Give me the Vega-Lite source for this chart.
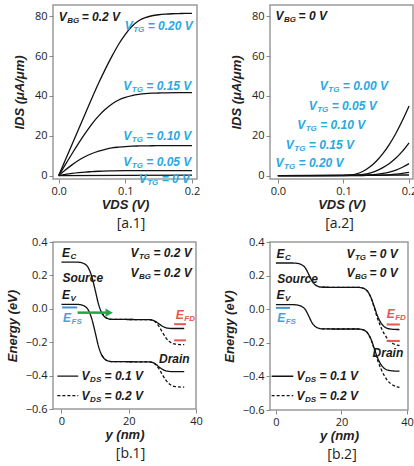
{
  "$schema": "https://vega.github.io/schema/vega-lite/v6.json",
  "padding": {"left": 5, "top": 4, "right": 0, "bottom": 0},
  "background": "white",
  "config": {
    "view": {"stroke": "#9a9a9a", "strokeWidth": 1.5},
    "axis": {"domain": false, "grid": false, "labelFont": "Open Sans", "labelFontSize": 11, "labelColor": "#222", "labelFlush": false, "labelOverlap": false, "labelBound": false, "labelPadding": 2, "tickColor": "#888", "tickSize": 4, "tickWidth": 1, "titleFont": "Liberation Sans", "titleFontSize": 13, "titleFontWeight": "bold", "titleFontStyle": "italic", "titleColor": "#222"},
    "axisX": {"titlePadding": 2},
    "axisY": {"titlePadding": 8},
    "title": {"orient": "bottom", "font": "Open Sans", "fontSize": 14, "fontWeight": "normal", "color": "#222", "offset": 6, "frame": "group"},
    "text": {"font": "Liberation Sans", "fontWeight": "bold", "fontStyle": "italic"}
  },
  "datasets": {
    "a1": [
      {"vtg": "0.20", "vds": 0, "ids": 0}, {"vtg": "0.20", "vds": 0.01, "ids": 7.8}, {"vtg": "0.20", "vds": 0.02, "ids": 15.6}, {"vtg": "0.20", "vds": 0.03, "ids": 23.4}, {"vtg": "0.20", "vds": 0.04, "ids": 31.2}, {"vtg": "0.20", "vds": 0.05, "ids": 39}, {"vtg": "0.20", "vds": 0.06, "ids": 46.5}, {"vtg": "0.20", "vds": 0.07, "ids": 53.5}, {"vtg": "0.20", "vds": 0.08, "ids": 60}, {"vtg": "0.20", "vds": 0.09, "ids": 66}, {"vtg": "0.20", "vds": 0.10, "ids": 71}, {"vtg": "0.20", "vds": 0.11, "ids": 75}, {"vtg": "0.20", "vds": 0.12, "ids": 77.8}, {"vtg": "0.20", "vds": 0.13, "ids": 79.4}, {"vtg": "0.20", "vds": 0.14, "ids": 80.3}, {"vtg": "0.20", "vds": 0.15, "ids": 80.8}, {"vtg": "0.20", "vds": 0.16, "ids": 81.1}, {"vtg": "0.20", "vds": 0.17, "ids": 81.3}, {"vtg": "0.20", "vds": 0.18, "ids": 81.4}, {"vtg": "0.20", "vds": 0.19, "ids": 81.5}, {"vtg": "0.20", "vds": 0.20, "ids": 81.5},
      {"vtg": "0.15", "vds": 0, "ids": 0}, {"vtg": "0.15", "vds": 0.01, "ids": 5.5}, {"vtg": "0.15", "vds": 0.02, "ids": 11}, {"vtg": "0.15", "vds": 0.03, "ids": 16.3}, {"vtg": "0.15", "vds": 0.04, "ids": 21.3}, {"vtg": "0.15", "vds": 0.05, "ids": 26}, {"vtg": "0.15", "vds": 0.06, "ids": 30}, {"vtg": "0.15", "vds": 0.07, "ids": 33.3}, {"vtg": "0.15", "vds": 0.08, "ids": 36}, {"vtg": "0.15", "vds": 0.09, "ids": 38}, {"vtg": "0.15", "vds": 0.10, "ids": 39.3}, {"vtg": "0.15", "vds": 0.11, "ids": 40.2}, {"vtg": "0.15", "vds": 0.12, "ids": 40.8}, {"vtg": "0.15", "vds": 0.13, "ids": 41.2}, {"vtg": "0.15", "vds": 0.14, "ids": 41.4}, {"vtg": "0.15", "vds": 0.15, "ids": 41.5}, {"vtg": "0.15", "vds": 0.16, "ids": 41.6}, {"vtg": "0.15", "vds": 0.18, "ids": 41.7}, {"vtg": "0.15", "vds": 0.20, "ids": 41.7},
      {"vtg": "0.10", "vds": 0, "ids": 0}, {"vtg": "0.10", "vds": 0.01, "ids": 2.8}, {"vtg": "0.10", "vds": 0.02, "ids": 5.4}, {"vtg": "0.10", "vds": 0.03, "ids": 7.7}, {"vtg": "0.10", "vds": 0.04, "ids": 9.6}, {"vtg": "0.10", "vds": 0.05, "ids": 11.1}, {"vtg": "0.10", "vds": 0.06, "ids": 12.3}, {"vtg": "0.10", "vds": 0.07, "ids": 13.2}, {"vtg": "0.10", "vds": 0.08, "ids": 13.9}, {"vtg": "0.10", "vds": 0.09, "ids": 14.3}, {"vtg": "0.10", "vds": 0.10, "ids": 14.6}, {"vtg": "0.10", "vds": 0.11, "ids": 14.8}, {"vtg": "0.10", "vds": 0.12, "ids": 14.9}, {"vtg": "0.10", "vds": 0.14, "ids": 15}, {"vtg": "0.10", "vds": 0.16, "ids": 15.1}, {"vtg": "0.10", "vds": 0.20, "ids": 15.1},
      {"vtg": "0.05", "vds": 0, "ids": 0}, {"vtg": "0.05", "vds": 0.01, "ids": 0.6}, {"vtg": "0.05", "vds": 0.02, "ids": 1.1}, {"vtg": "0.05", "vds": 0.03, "ids": 1.5}, {"vtg": "0.05", "vds": 0.04, "ids": 1.8}, {"vtg": "0.05", "vds": 0.05, "ids": 2.0}, {"vtg": "0.05", "vds": 0.06, "ids": 2.2}, {"vtg": "0.05", "vds": 0.08, "ids": 2.4}, {"vtg": "0.05", "vds": 0.10, "ids": 2.5}, {"vtg": "0.05", "vds": 0.20, "ids": 2.5},
      {"vtg": "0.00", "vds": 0, "ids": 0}, {"vtg": "0.00", "vds": 0.1, "ids": 0.15}, {"vtg": "0.00", "vds": 0.2, "ids": 0.2}
    ],
    "a2": [
      {"vtg": "0.00", "vds": 0, "ids": 0}, {"vtg": "0.00", "vds": 0.05, "ids": 0}, {"vtg": "0.00", "vds": 0.10, "ids": 0.1}, {"vtg": "0.00", "vds": 0.11, "ids": 0.3}, {"vtg": "0.00", "vds": 0.12, "ids": 0.9}, {"vtg": "0.00", "vds": 0.13, "ids": 2.2}, {"vtg": "0.00", "vds": 0.14, "ids": 4.3}, {"vtg": "0.00", "vds": 0.15, "ids": 7.2}, {"vtg": "0.00", "vds": 0.16, "ids": 11}, {"vtg": "0.00", "vds": 0.17, "ids": 15.7}, {"vtg": "0.00", "vds": 0.18, "ids": 21.3}, {"vtg": "0.00", "vds": 0.19, "ids": 27.8}, {"vtg": "0.00", "vds": 0.20, "ids": 35},
      {"vtg": "0.05", "vds": 0, "ids": 0}, {"vtg": "0.05", "vds": 0.10, "ids": 0}, {"vtg": "0.05", "vds": 0.12, "ids": 0.2}, {"vtg": "0.05", "vds": 0.13, "ids": 0.6}, {"vtg": "0.05", "vds": 0.14, "ids": 1.3}, {"vtg": "0.05", "vds": 0.15, "ids": 2.4}, {"vtg": "0.05", "vds": 0.16, "ids": 4}, {"vtg": "0.05", "vds": 0.17, "ids": 6.1}, {"vtg": "0.05", "vds": 0.18, "ids": 8.8}, {"vtg": "0.05", "vds": 0.19, "ids": 12.3}, {"vtg": "0.05", "vds": 0.20, "ids": 16.5},
      {"vtg": "0.10", "vds": 0, "ids": 0}, {"vtg": "0.10", "vds": 0.12, "ids": 0}, {"vtg": "0.10", "vds": 0.14, "ids": 0.3}, {"vtg": "0.10", "vds": 0.15, "ids": 0.6}, {"vtg": "0.10", "vds": 0.16, "ids": 1.1}, {"vtg": "0.10", "vds": 0.17, "ids": 1.8}, {"vtg": "0.10", "vds": 0.18, "ids": 2.8}, {"vtg": "0.10", "vds": 0.19, "ids": 4.2}, {"vtg": "0.10", "vds": 0.20, "ids": 6},
      {"vtg": "0.15", "vds": 0, "ids": 0}, {"vtg": "0.15", "vds": 0.15, "ids": 0.1}, {"vtg": "0.15", "vds": 0.16, "ids": 0.2}, {"vtg": "0.15", "vds": 0.17, "ids": 0.4}, {"vtg": "0.15", "vds": 0.18, "ids": 0.7}, {"vtg": "0.15", "vds": 0.19, "ids": 1.1}, {"vtg": "0.15", "vds": 0.20, "ids": 1.6},
      {"vtg": "0.20", "vds": 0, "ids": 0}, {"vtg": "0.20", "vds": 0.20, "ids": 0.3}
    ],
    "b1": [
      {"band": "Ec", "vds": "0.1 V", "x": 0, "y": 0.28}, {"band": "Ec", "vds": "0.1 V", "x": 4, "y": 0.28}, {"band": "Ec", "vds": "0.1 V", "x": 5, "y": 0.279}, {"band": "Ec", "vds": "0.1 V", "x": 6, "y": 0.276}, {"band": "Ec", "vds": "0.1 V", "x": 7, "y": 0.267}, {"band": "Ec", "vds": "0.1 V", "x": 8, "y": 0.245}, {"band": "Ec", "vds": "0.1 V", "x": 9, "y": 0.195}, {"band": "Ec", "vds": "0.1 V", "x": 10, "y": 0.115}, {"band": "Ec", "vds": "0.1 V", "x": 11, "y": 0.03}, {"band": "Ec", "vds": "0.1 V", "x": 12, "y": -0.025}, {"band": "Ec", "vds": "0.1 V", "x": 13, "y": -0.05}, {"band": "Ec", "vds": "0.1 V", "x": 14, "y": -0.06}, {"band": "Ec", "vds": "0.1 V", "x": 15, "y": -0.063}, {"band": "Ec", "vds": "0.1 V", "x": 20, "y": -0.064}, {"band": "Ec", "vds": "0.1 V", "x": 26, "y": -0.065}, {"band": "Ec", "vds": "0.1 V", "x": 27, "y": -0.068}, {"band": "Ec", "vds": "0.1 V", "x": 28, "y": -0.076}, {"band": "Ec", "vds": "0.1 V", "x": 29, "y": -0.09}, {"band": "Ec", "vds": "0.1 V", "x": 30, "y": -0.104}, {"band": "Ec", "vds": "0.1 V", "x": 31, "y": -0.113}, {"band": "Ec", "vds": "0.1 V", "x": 32, "y": -0.117}, {"band": "Ec", "vds": "0.1 V", "x": 33, "y": -0.118}, {"band": "Ec", "vds": "0.1 V", "x": 36.5, "y": -0.118},
      {"band": "Ec", "vds": "0.2 V", "x": 12, "y": -0.025}, {"band": "Ec", "vds": "0.2 V", "x": 13, "y": -0.05}, {"band": "Ec", "vds": "0.2 V", "x": 14, "y": -0.06}, {"band": "Ec", "vds": "0.2 V", "x": 15, "y": -0.063}, {"band": "Ec", "vds": "0.2 V", "x": 20, "y": -0.064}, {"band": "Ec", "vds": "0.2 V", "x": 26, "y": -0.065}, {"band": "Ec", "vds": "0.2 V", "x": 27, "y": -0.068}, {"band": "Ec", "vds": "0.2 V", "x": 28, "y": -0.08}, {"band": "Ec", "vds": "0.2 V", "x": 29, "y": -0.105}, {"band": "Ec", "vds": "0.2 V", "x": 30, "y": -0.14}, {"band": "Ec", "vds": "0.2 V", "x": 31, "y": -0.172}, {"band": "Ec", "vds": "0.2 V", "x": 32, "y": -0.195}, {"band": "Ec", "vds": "0.2 V", "x": 33, "y": -0.207}, {"band": "Ec", "vds": "0.2 V", "x": 34, "y": -0.212}, {"band": "Ec", "vds": "0.2 V", "x": 35, "y": -0.214}, {"band": "Ec", "vds": "0.2 V", "x": 36.5, "y": -0.215},
      {"band": "Ev", "vds": "0.1 V", "x": 0, "y": 0.027}, {"band": "Ev", "vds": "0.1 V", "x": 4, "y": 0.027}, {"band": "Ev", "vds": "0.1 V", "x": 5, "y": 0.026}, {"band": "Ev", "vds": "0.1 V", "x": 6, "y": 0.023}, {"band": "Ev", "vds": "0.1 V", "x": 7, "y": 0.014}, {"band": "Ev", "vds": "0.1 V", "x": 8, "y": -0.008}, {"band": "Ev", "vds": "0.1 V", "x": 9, "y": -0.058}, {"band": "Ev", "vds": "0.1 V", "x": 10, "y": -0.138}, {"band": "Ev", "vds": "0.1 V", "x": 11, "y": -0.223}, {"band": "Ev", "vds": "0.1 V", "x": 12, "y": -0.278}, {"band": "Ev", "vds": "0.1 V", "x": 13, "y": -0.303}, {"band": "Ev", "vds": "0.1 V", "x": 14, "y": -0.313}, {"band": "Ev", "vds": "0.1 V", "x": 15, "y": -0.316}, {"band": "Ev", "vds": "0.1 V", "x": 20, "y": -0.317}, {"band": "Ev", "vds": "0.1 V", "x": 26, "y": -0.318}, {"band": "Ev", "vds": "0.1 V", "x": 27, "y": -0.321}, {"band": "Ev", "vds": "0.1 V", "x": 28, "y": -0.331}, {"band": "Ev", "vds": "0.1 V", "x": 29, "y": -0.348}, {"band": "Ev", "vds": "0.1 V", "x": 30, "y": -0.362}, {"band": "Ev", "vds": "0.1 V", "x": 31, "y": -0.371}, {"band": "Ev", "vds": "0.1 V", "x": 32, "y": -0.375}, {"band": "Ev", "vds": "0.1 V", "x": 33, "y": -0.376}, {"band": "Ev", "vds": "0.1 V", "x": 36.5, "y": -0.376},
      {"band": "Ev", "vds": "0.2 V", "x": 12, "y": -0.278}, {"band": "Ev", "vds": "0.2 V", "x": 13, "y": -0.303}, {"band": "Ev", "vds": "0.2 V", "x": 14, "y": -0.313}, {"band": "Ev", "vds": "0.2 V", "x": 15, "y": -0.316}, {"band": "Ev", "vds": "0.2 V", "x": 20, "y": -0.317}, {"band": "Ev", "vds": "0.2 V", "x": 26, "y": -0.318}, {"band": "Ev", "vds": "0.2 V", "x": 27, "y": -0.321}, {"band": "Ev", "vds": "0.2 V", "x": 28, "y": -0.334}, {"band": "Ev", "vds": "0.2 V", "x": 29, "y": -0.359}, {"band": "Ev", "vds": "0.2 V", "x": 30, "y": -0.394}, {"band": "Ev", "vds": "0.2 V", "x": 31, "y": -0.426}, {"band": "Ev", "vds": "0.2 V", "x": 32, "y": -0.449}, {"band": "Ev", "vds": "0.2 V", "x": 33, "y": -0.461}, {"band": "Ev", "vds": "0.2 V", "x": 34, "y": -0.466}, {"band": "Ev", "vds": "0.2 V", "x": 35, "y": -0.468}, {"band": "Ev", "vds": "0.2 V", "x": 36.5, "y": -0.469},
      {"band": "leg1", "vds": "0.1 V", "x": -1.2, "y": -0.403}, {"band": "leg1", "vds": "0.1 V", "x": 5, "y": -0.403},
      {"band": "leg2", "vds": "0.2 V", "x": -1.2, "y": -0.52}, {"band": "leg2", "vds": "0.2 V", "x": 5, "y": -0.52}
    ],
    "b2": [
      {"band": "Ec", "vds": "0.1 V", "x": 0, "y": 0.275}, {"band": "Ec", "vds": "0.1 V", "x": 5, "y": 0.275}, {"band": "Ec", "vds": "0.1 V", "x": 6, "y": 0.274}, {"band": "Ec", "vds": "0.1 V", "x": 7, "y": 0.271}, {"band": "Ec", "vds": "0.1 V", "x": 8, "y": 0.263}, {"band": "Ec", "vds": "0.1 V", "x": 9, "y": 0.245}, {"band": "Ec", "vds": "0.1 V", "x": 10, "y": 0.208}, {"band": "Ec", "vds": "0.1 V", "x": 11, "y": 0.168}, {"band": "Ec", "vds": "0.1 V", "x": 12, "y": 0.145}, {"band": "Ec", "vds": "0.1 V", "x": 13, "y": 0.135}, {"band": "Ec", "vds": "0.1 V", "x": 14, "y": 0.131}, {"band": "Ec", "vds": "0.1 V", "x": 20, "y": 0.13}, {"band": "Ec", "vds": "0.1 V", "x": 25, "y": 0.13}, {"band": "Ec", "vds": "0.1 V", "x": 26, "y": 0.128}, {"band": "Ec", "vds": "0.1 V", "x": 27, "y": 0.122}, {"band": "Ec", "vds": "0.1 V", "x": 28, "y": 0.105}, {"band": "Ec", "vds": "0.1 V", "x": 29, "y": 0.07}, {"band": "Ec", "vds": "0.1 V", "x": 30, "y": 0.015}, {"band": "Ec", "vds": "0.1 V", "x": 31, "y": -0.04}, {"band": "Ec", "vds": "0.1 V", "x": 32, "y": -0.08}, {"band": "Ec", "vds": "0.1 V", "x": 33, "y": -0.103}, {"band": "Ec", "vds": "0.1 V", "x": 34, "y": -0.114}, {"band": "Ec", "vds": "0.1 V", "x": 35, "y": -0.118}, {"band": "Ec", "vds": "0.1 V", "x": 36, "y": -0.12}, {"band": "Ec", "vds": "0.1 V", "x": 37.7, "y": -0.121},
      {"band": "Ec", "vds": "0.2 V", "x": 14, "y": 0.131}, {"band": "Ec", "vds": "0.2 V", "x": 20, "y": 0.13}, {"band": "Ec", "vds": "0.2 V", "x": 25, "y": 0.13}, {"band": "Ec", "vds": "0.2 V", "x": 26, "y": 0.128}, {"band": "Ec", "vds": "0.2 V", "x": 27, "y": 0.122}, {"band": "Ec", "vds": "0.2 V", "x": 28, "y": 0.105}, {"band": "Ec", "vds": "0.2 V", "x": 29, "y": 0.068}, {"band": "Ec", "vds": "0.2 V", "x": 30, "y": 0.01}, {"band": "Ec", "vds": "0.2 V", "x": 31, "y": -0.055}, {"band": "Ec", "vds": "0.2 V", "x": 32, "y": -0.105}, {"band": "Ec", "vds": "0.2 V", "x": 33, "y": -0.145}, {"band": "Ec", "vds": "0.2 V", "x": 34, "y": -0.175}, {"band": "Ec", "vds": "0.2 V", "x": 35, "y": -0.195}, {"band": "Ec", "vds": "0.2 V", "x": 36, "y": -0.207}, {"band": "Ec", "vds": "0.2 V", "x": 37, "y": -0.214}, {"band": "Ec", "vds": "0.2 V", "x": 37.7, "y": -0.216},
      {"band": "Ev", "vds": "0.1 V", "x": 0, "y": 0.027}, {"band": "Ev", "vds": "0.1 V", "x": 5, "y": 0.027}, {"band": "Ev", "vds": "0.1 V", "x": 6, "y": 0.026}, {"band": "Ev", "vds": "0.1 V", "x": 7, "y": 0.023}, {"band": "Ev", "vds": "0.1 V", "x": 8, "y": 0.015}, {"band": "Ev", "vds": "0.1 V", "x": 9, "y": -0.003}, {"band": "Ev", "vds": "0.1 V", "x": 10, "y": -0.04}, {"band": "Ev", "vds": "0.1 V", "x": 11, "y": -0.08}, {"band": "Ev", "vds": "0.1 V", "x": 12, "y": -0.103}, {"band": "Ev", "vds": "0.1 V", "x": 13, "y": -0.113}, {"band": "Ev", "vds": "0.1 V", "x": 14, "y": -0.117}, {"band": "Ev", "vds": "0.1 V", "x": 20, "y": -0.118}, {"band": "Ev", "vds": "0.1 V", "x": 25, "y": -0.118}, {"band": "Ev", "vds": "0.1 V", "x": 26, "y": -0.12}, {"band": "Ev", "vds": "0.1 V", "x": 27, "y": -0.126}, {"band": "Ev", "vds": "0.1 V", "x": 28, "y": -0.143}, {"band": "Ev", "vds": "0.1 V", "x": 29, "y": -0.178}, {"band": "Ev", "vds": "0.1 V", "x": 30, "y": -0.233}, {"band": "Ev", "vds": "0.1 V", "x": 31, "y": -0.288}, {"band": "Ev", "vds": "0.1 V", "x": 32, "y": -0.328}, {"band": "Ev", "vds": "0.1 V", "x": 33, "y": -0.351}, {"band": "Ev", "vds": "0.1 V", "x": 34, "y": -0.362}, {"band": "Ev", "vds": "0.1 V", "x": 35, "y": -0.366}, {"band": "Ev", "vds": "0.1 V", "x": 36, "y": -0.368}, {"band": "Ev", "vds": "0.1 V", "x": 37.7, "y": -0.369},
      {"band": "Ev", "vds": "0.2 V", "x": 14, "y": -0.117}, {"band": "Ev", "vds": "0.2 V", "x": 20, "y": -0.118}, {"band": "Ev", "vds": "0.2 V", "x": 25, "y": -0.118}, {"band": "Ev", "vds": "0.2 V", "x": 26, "y": -0.12}, {"band": "Ev", "vds": "0.2 V", "x": 27, "y": -0.126}, {"band": "Ev", "vds": "0.2 V", "x": 28, "y": -0.143}, {"band": "Ev", "vds": "0.2 V", "x": 29, "y": -0.18}, {"band": "Ev", "vds": "0.2 V", "x": 30, "y": -0.238}, {"band": "Ev", "vds": "0.2 V", "x": 31, "y": -0.303}, {"band": "Ev", "vds": "0.2 V", "x": 32, "y": -0.353}, {"band": "Ev", "vds": "0.2 V", "x": 33, "y": -0.393}, {"band": "Ev", "vds": "0.2 V", "x": 34, "y": -0.423}, {"band": "Ev", "vds": "0.2 V", "x": 35, "y": -0.443}, {"band": "Ev", "vds": "0.2 V", "x": 36, "y": -0.455}, {"band": "Ev", "vds": "0.2 V", "x": 37, "y": -0.462}, {"band": "Ev", "vds": "0.2 V", "x": 37.7, "y": -0.465},
      {"band": "leg1", "vds": "0.1 V", "x": -1.3, "y": -0.399}, {"band": "leg1", "vds": "0.1 V", "x": 5.3, "y": -0.399},
      {"band": "leg2", "vds": "0.2 V", "x": -1.3, "y": -0.515}, {"band": "leg2", "vds": "0.2 V", "x": 5.3, "y": -0.515}
    ],
    "ta1": [
      {"vds": 0.0, "ids": 79.6, "main": "V", "sub": "BG", "rest": "= 0.2 V", "kind": "label"},
      {"vds": 0.099, "ids": 75.4, "main": "V", "sub": "TG", "rest": "= 0.20 V", "kind": "vtg"},
      {"vds": 0.097, "ids": 44.9, "main": "V", "sub": "TG", "rest": "= 0.15 V", "kind": "vtg"},
      {"vds": 0.097, "ids": 20.1, "main": "V", "sub": "TG", "rest": "= 0.10 V", "kind": "vtg"},
      {"vds": 0.097, "ids": 7.0, "main": "V", "sub": "TG", "rest": "= 0.05 V", "kind": "vtg"},
      {"vds": 0.12, "ids": -1.5, "main": "V", "sub": "TG", "rest": "= 0 V", "kind": "vtg"}
    ],
    "ta2": [
      {"vds": -0.0035, "ids": 80, "main": "V", "sub": "BG", "rest": "= 0 V", "kind": "label"},
      {"vds": 0.064, "ids": 44.9, "main": "V", "sub": "TG", "rest": "= 0.00 V", "kind": "vtg"},
      {"vds": 0.047, "ids": 35.2, "main": "V", "sub": "TG", "rest": "= 0.05 V", "kind": "vtg"},
      {"vds": 0.0295, "ids": 25.5, "main": "V", "sub": "TG", "rest": "= 0.10 V", "kind": "vtg"},
      {"vds": 0.0122, "ids": 15.6, "main": "V", "sub": "TG", "rest": "= 0.15 V", "kind": "vtg"},
      {"vds": -0.0035, "ids": 6.4, "main": "V", "sub": "TG", "rest": "= 0.20 V", "kind": "vtg"}
    ],
    "tb1": [
      {"x": 0.2, "y": 0.334, "main": "E", "sub": "C", "rest": "", "kind": "label"},
      {"x": 0.3, "y": 0.183, "main": "Source", "sub": "", "rest": "", "kind": "label"},
      {"x": 0.2, "y": 0.083, "main": "E", "sub": "V", "rest": "", "kind": "label"},
      {"x": 0.5, "y": -0.054, "main": "E", "sub": "FS", "rest": "", "kind": "efs"},
      {"x": 20.5, "y": 0.334, "main": "V", "sub": "TG", "rest": "= 0.2 V", "kind": "label"},
      {"x": 20.5, "y": 0.215, "main": "V", "sub": "BG", "rest": "= 0.2 V", "kind": "label"},
      {"x": 34, "y": -0.038, "main": "E", "sub": "FD", "rest": "", "kind": "efd"},
      {"x": 29, "y": -0.3, "main": "Drain", "sub": "", "rest": "", "kind": "label"},
      {"x": 6, "y": -0.403, "main": "V", "sub": "DS", "rest": "= 0.1 V", "kind": "label"},
      {"x": 6, "y": -0.52, "main": "V", "sub": "DS", "rest": "= 0.2 V", "kind": "label"}
    ],
    "tb2": [
      {"x": 0.2, "y": 0.33, "main": "E", "sub": "C", "rest": "", "kind": "label"},
      {"x": 0.4, "y": 0.181, "main": "Source", "sub": "", "rest": "", "kind": "label"},
      {"x": 0.2, "y": 0.082, "main": "E", "sub": "V", "rest": "", "kind": "label"},
      {"x": 0.4, "y": -0.053, "main": "E", "sub": "FS", "rest": "", "kind": "efs"},
      {"x": 21.5, "y": 0.33, "main": "V", "sub": "TG", "rest": "= 0 V", "kind": "label"},
      {"x": 21.5, "y": 0.215, "main": "V", "sub": "BG", "rest": "= 0 V", "kind": "label"},
      {"x": 33.8, "y": -0.027, "main": "E", "sub": "FD", "rest": "", "kind": "efd"},
      {"x": 29.5, "y": -0.26, "main": "Drain", "sub": "", "rest": "", "kind": "label"},
      {"x": 6.3, "y": -0.399, "main": "V", "sub": "DS", "rest": "= 0.1 V", "kind": "label"},
      {"x": 6.3, "y": -0.515, "main": "V", "sub": "DS", "rest": "= 0.2 V", "kind": "label"}
    ],
    "mb1": [
      {"x": 0.2, "y": 0.008, "id": "s", "kind": "efs"}, {"x": 4.7, "y": 0.008, "id": "s", "kind": "efs"},
      {"x": 33.5, "y": -0.092, "id": "d1", "kind": "efd"}, {"x": 37, "y": -0.092, "id": "d1", "kind": "efd"},
      {"x": 33.5, "y": -0.189, "id": "d2", "kind": "efd"}, {"x": 37, "y": -0.189, "id": "d2", "kind": "efd"},
      {"x": 4.8, "y": -0.023, "id": "a", "kind": "arrow"}, {"x": 13.5, "y": -0.023, "id": "a", "kind": "arrow"},
      {"x": 14.2, "y": -0.023, "id": "h", "kind": "head"}
    ],
    "mb2": [
      {"x": 0.0, "y": 0.008, "id": "s", "kind": "efs"}, {"x": 4.3, "y": 0.008, "id": "s", "kind": "efs"},
      {"x": 33.8, "y": -0.091, "id": "d1", "kind": "efd"}, {"x": 37.8, "y": -0.091, "id": "d1", "kind": "efd"},
      {"x": 33.8, "y": -0.189, "id": "d2", "kind": "efd"}, {"x": 37.8, "y": -0.189, "id": "d2", "kind": "efd"}
    ]
  },
  "columns": 2,
  "spacing": {"row": 63, "column": 73},
  "bounds": "flush",
  "concat": [
    {
      "width": 144, "height": 174,
      "title": {"text": "[a.1]", "dx": 6},
      "encoding": {
        "x": {"field": "vds", "type": "quantitative", "scale": {"domain": [-0.0085, 0.2075], "nice": false, "zero": false}, "axis": {"title": "VDS (V)", "values": [0, 0.1, 0.2], "format": ".1f", "labelOverlap": false}},
        "y": {"field": "ids", "type": "quantitative", "scale": {"domain": [-1.7, 85.7], "nice": false, "zero": false}, "axis": {"title": "IDS (μA/μm)", "values": [0, 20, 40, 60, 80], "labelOverlap": false}}
      },
      "layer": [
        {"data": {"name": "a1"}, "mark": {"type": "line", "color": "#111", "strokeWidth": 1.3, "interpolate": "monotone"},
         "encoding": {"detail": {"field": "vtg"}}},
        {"data": {"name": "ta1"}, "mark": {"type": "text", "align": "left", "baseline": "middle", "fontSize": 12},
         "encoding": {"text": {"field": "main"}, "color": {"field": "kind", "type": "nominal", "scale": {"domain": ["label", "vtg", "efs", "efd"], "range": ["#1a1a1a", "#2aa8e0", "#4a9fd8", "#e8564e"]}, "legend": null}}},
        {"data": {"name": "ta1"}, "mark": {"type": "text", "align": "left", "baseline": "middle", "fontSize": 8, "dx": 8.5, "dy": 4},
         "encoding": {"text": {"field": "sub"}, "color": {"field": "kind", "type": "nominal", "legend": null}}},
        {"data": {"name": "ta1"}, "mark": {"type": "text", "align": "left", "baseline": "middle", "fontSize": 12, "dx": 23},
         "encoding": {"text": {"field": "rest"}, "color": {"field": "kind", "type": "nominal", "legend": null}}}
      ]
    },
    {
      "width": 143, "height": 174,
      "title": {"text": "[a.2]", "dx": -2},
      "encoding": {
        "x": {"field": "vds", "type": "quantitative", "scale": {"domain": [-0.012, 0.206], "nice": false, "zero": false}, "axis": {"title": "VDS (V)", "values": [0, 0.1, 0.2], "format": ".1f", "labelOverlap": false}},
        "y": {"field": "ids", "type": "quantitative", "scale": {"domain": [-1.7, 85.7], "nice": false, "zero": false}, "axis": {"title": "IDS (μA/μm)", "values": [0, 20, 40, 60, 80], "labelOverlap": false}}
      },
      "layer": [
        {"data": {"name": "a2"}, "mark": {"type": "line", "color": "#111", "strokeWidth": 1.3, "interpolate": "monotone"},
         "encoding": {"detail": {"field": "vtg"}}},
        {"data": {"name": "ta2"}, "mark": {"type": "text", "align": "left", "baseline": "middle", "fontSize": 12},
         "encoding": {"text": {"field": "main"}, "color": {"field": "kind", "type": "nominal", "scale": {"domain": ["label", "vtg", "efs", "efd"], "range": ["#1a1a1a", "#2aa8e0", "#4a9fd8", "#e8564e"]}, "legend": null}}},
        {"data": {"name": "ta2"}, "mark": {"type": "text", "align": "left", "baseline": "middle", "fontSize": 8, "dx": 8.5, "dy": 4},
         "encoding": {"text": {"field": "sub"}, "color": {"field": "kind", "type": "nominal", "legend": null}}},
        {"data": {"name": "ta2"}, "mark": {"type": "text", "align": "left", "baseline": "middle", "fontSize": 12, "dx": 23},
         "encoding": {"text": {"field": "rest"}, "color": {"field": "kind", "type": "nominal", "legend": null}}}
      ]
    },
    {
      "width": 143, "height": 167,
      "title": {"text": "[b.1]", "dx": 6},
      "encoding": {
        "x": {"field": "x", "type": "quantitative", "scale": {"domain": [-2.5, 40], "nice": false, "zero": false}, "axis": {"title": "y (nm)", "values": [0, 20, 40], "labelOverlap": false}},
        "y": {"field": "y", "type": "quantitative", "scale": {"domain": [-0.6, 0.4], "nice": false, "zero": false}, "axis": {"title": "Energy (eV)", "titlePadding": 6, "values": [-0.6, -0.4, -0.2, 0, 0.2, 0.4], "format": ".1f", "labelOverlap": false}}
      },
      "layer": [
        {"data": {"name": "b1"}, "mark": {"type": "line", "color": "#111", "strokeWidth": 1.3, "interpolate": "monotone"},
         "encoding": {
           "detail": {"field": "band"},
           "strokeDash": {"field": "vds", "type": "nominal", "scale": {"domain": ["0.1 V", "0.2 V"], "range": [[1, 0], [3, 2]]}, "legend": null}}},
        {"data": {"name": "mb1"}, "transform": [{"filter": "datum.kind == 'efs'"}], "mark": {"type": "line", "color": "#3d95d6", "strokeWidth": 2},
         "encoding": {"detail": {"field": "id"}}},
        {"data": {"name": "mb1"}, "transform": [{"filter": "datum.kind == 'efd'"}], "mark": {"type": "line", "color": "#e8564e", "strokeWidth": 2},
         "encoding": {"detail": {"field": "id"}}},
        {"data": {"name": "mb1"}, "transform": [{"filter": "datum.kind == 'arrow'"}], "mark": {"type": "line", "color": "#1fa64a", "strokeWidth": 2.5},
         "encoding": {"detail": {"field": "id"}}},
        {"data": {"name": "mb1"}, "transform": [{"filter": "datum.kind == 'head'"}], "mark": {"type": "point", "shape": "triangle-right", "filled": true, "color": "#1fa64a", "size": 70, "opacity": 1},
         "encoding": {}},
        {"data": {"name": "tb1"}, "mark": {"type": "text", "align": "left", "baseline": "middle", "fontSize": 12},
         "encoding": {"text": {"field": "main"}, "color": {"field": "kind", "type": "nominal", "scale": {"domain": ["label", "vtg", "efs", "efd"], "range": ["#1a1a1a", "#2aa8e0", "#4a9fd8", "#e8564e"]}, "legend": null}}},
        {"data": {"name": "tb1"}, "mark": {"type": "text", "align": "left", "baseline": "middle", "fontSize": 8, "dx": 8.5, "dy": 4},
         "encoding": {"text": {"field": "sub"}, "color": {"field": "kind", "type": "nominal", "legend": null}}},
        {"data": {"name": "tb1"}, "mark": {"type": "text", "align": "left", "baseline": "middle", "fontSize": 12, "dx": 23},
         "encoding": {"text": {"field": "rest"}, "color": {"field": "kind", "type": "nominal", "legend": null}}}
      ]
    },
    {
      "width": 138, "height": 168,
      "title": {"text": "[b.2]", "dx": 3},
      "encoding": {
        "x": {"field": "x", "type": "quantitative", "scale": {"domain": [-1.8, 40.3], "nice": false, "zero": false}, "axis": {"title": "y (nm)", "values": [0, 20, 40], "labelOverlap": false}},
        "y": {"field": "y", "type": "quantitative", "scale": {"domain": [-0.6, 0.4], "nice": false, "zero": false}, "axis": {"title": "Energy (eV)", "titlePadding": 6, "values": [-0.6, -0.4, -0.2, 0, 0.2, 0.4], "format": ".1f", "labelOverlap": false}}
      },
      "layer": [
        {"data": {"name": "b2"}, "mark": {"type": "line", "color": "#111", "strokeWidth": 1.3, "interpolate": "monotone"},
         "encoding": {
           "detail": {"field": "band"},
           "strokeDash": {"field": "vds", "type": "nominal", "scale": {"domain": ["0.1 V", "0.2 V"], "range": [[1, 0], [3, 2]]}, "legend": null}}},
        {"data": {"name": "mb2"}, "transform": [{"filter": "datum.kind == 'efs'"}], "mark": {"type": "line", "color": "#3d95d6", "strokeWidth": 2},
         "encoding": {"detail": {"field": "id"}}},
        {"data": {"name": "mb2"}, "transform": [{"filter": "datum.kind == 'efd'"}], "mark": {"type": "line", "color": "#e8564e", "strokeWidth": 2},
         "encoding": {"detail": {"field": "id"}}},
        {"data": {"name": "tb2"}, "mark": {"type": "text", "align": "left", "baseline": "middle", "fontSize": 12},
         "encoding": {"text": {"field": "main"}, "color": {"field": "kind", "type": "nominal", "scale": {"domain": ["label", "vtg", "efs", "efd"], "range": ["#1a1a1a", "#2aa8e0", "#4a9fd8", "#e8564e"]}, "legend": null}}},
        {"data": {"name": "tb2"}, "mark": {"type": "text", "align": "left", "baseline": "middle", "fontSize": 8, "dx": 8.5, "dy": 4},
         "encoding": {"text": {"field": "sub"}, "color": {"field": "kind", "type": "nominal", "legend": null}}},
        {"data": {"name": "tb2"}, "mark": {"type": "text", "align": "left", "baseline": "middle", "fontSize": 12, "dx": 23},
         "encoding": {"text": {"field": "rest"}, "color": {"field": "kind", "type": "nominal", "legend": null}}}
      ]
    }
  ]
}
